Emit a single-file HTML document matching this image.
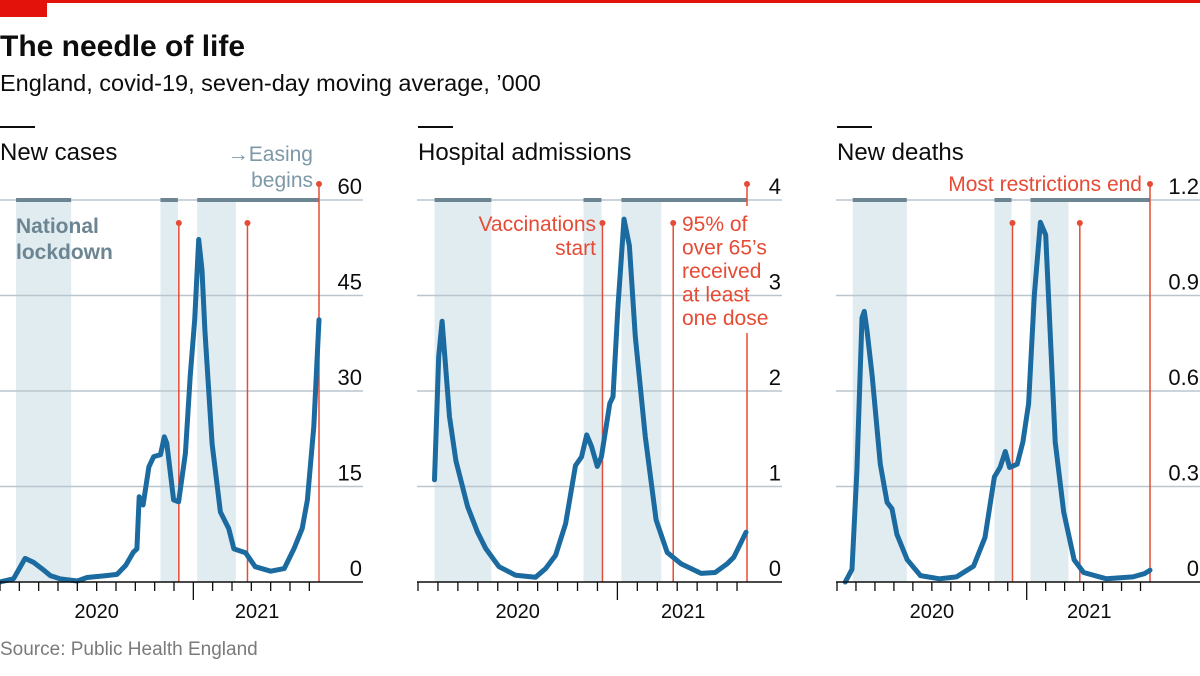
<!DOCTYPE html>
<html><head><meta charset="utf-8">
<style>
body{margin:0;background:#fff;}
svg{display:block;font-family:"Liberation Sans",sans-serif;}
</style></head>
<body>
<svg id="chart" width="1200" height="676" viewBox="0 0 1200 676">
<rect x="0" y="0" width="1200" height="3" fill="#e3120b"/>
<rect x="0" y="0" width="47" height="17" fill="#e3120b"/>
<text x="0" y="56" font-size="30" font-weight="bold" fill="#0d0d0d">The needle of life</text>
<text x="0" y="91" font-size="23.5" fill="#0d0d0d">England, covid-19, seven-day moving average, ’000</text>
<text x="0" y="655" font-size="19" fill="#7a7a7a">Source: Public Health England</text>
<g id="panels"></g>
</svg>
<script>
// month offsets from 1 Mar 2020
const casesMonths = [0,0.7,1.3,1.73,2.16,2.6,3.1,4,4.5,5.5,6.05,6.5,6.9,7.08,7.2,7.4,7.7,7.95,8.3,8.5,8.63,8.98,9.24,9.59,9.84,10.07,10.28,10.45,10.6,10.97,11.4,11.83,12.1,12.7,13.2,14,14.7,15.2,15.63,15.9,16.23,16.5];
const casesValues = [0,0.5,3.7,3.1,2.1,1,0.5,0.15,0.7,1,1.2,2.6,4.7,5.2,13.4,12.1,18.1,19.7,20,22.8,21.8,12.9,12.6,20.2,32.3,41.2,53.8,49,39.5,21.7,11,8.4,5.2,4.6,2.4,1.7,2.1,5.2,8.4,12.9,24.4,41.2];
const hospMonths = [0.83,1.04,1.21,1.58,1.9,2.49,2.99,3.4,4.06,4.9,5.9,6.4,6.9,7.4,7.9,8.2,8.46,8.7,8.99,9.2,9.62,9.78,10.03,10.33,10.6,10.9,11.4,11.94,12.5,13.2,14.2,14.9,15.5,15.84,16.45];
const hospValues = [1.07,2.36,2.73,1.73,1.27,0.79,0.52,0.35,0.16,0.07,0.05,0.14,0.28,0.61,1.22,1.31,1.54,1.42,1.21,1.31,1.87,1.94,2.89,3.8,3.52,2.57,1.52,0.65,0.31,0.19,0.09,0.1,0.19,0.26,0.52];
const deathMonths = [0.44,0.79,1.05,1.32,1.44,1.58,1.85,2.28,2.64,2.9,3.16,3.7,4.4,5.4,6.3,7.2,7.8,8.3,8.6,8.87,9.1,9.5,9.8,10.1,10.4,10.72,11,11.5,11.95,12.5,13,14.2,15.6,16.2,16.5];
const deathValues = [0,0.04,0.35,0.83,0.85,0.79,0.65,0.37,0.25,0.23,0.15,0.07,0.02,0.01,0.016,0.05,0.14,0.33,0.36,0.41,0.36,0.37,0.44,0.56,0.9,1.13,1.09,0.44,0.22,0.07,0.03,0.01,0.016,0.026,0.037];
const casesTicks = ["0","15","30","45","60"];
const hospTicks = ["0","1","2","3","4"];
const deathTicks = ["0","0.3","0.6","0.9","1.2"];
const lockdowns = [[0.83,3.68],[8.3,9.2],[10.2,12.2]];
const restrictionBars = [[0.83,3.68],[8.3,9.2],[10.2,16.5]];
const vaccineStart = 9.25, over65Dose = 12.8, restrictionsEnd = 16.5;

const NS="http://www.w3.org/2000/svg";
const root=document.getElementById('panels');
function mk(tag,attrs,parent){const e=document.createElementNS(NS,tag);for(const k in attrs)e.setAttribute(k,attrs[k]);(parent||root).appendChild(e);return e;}
const RED="#e64b35", BLUE="#1b6aa0";
const panels=[
 {name:'new-cases',title:'New cases',x0:0,x1:319,gx1:363,max:60,ticks:casesTicks,m:casesMonths,v:casesValues},
 {name:'hospital-admissions',title:'Hospital admissions',x0:418,x1:747,gx1:782,max:4,ticks:hospTicks,m:hospMonths,v:hospValues},
 {name:'new-deaths',title:'New deaths',x0:837,x1:1150,gx1:1200,max:1.2,ticks:deathTicks,m:deathMonths,v:deathValues}
];
const yTop=200,yBase=582;
panels.forEach((p,pi)=>{
  const g=mk('g',{});
  
  
  const X=m=>p.x0+(p.x1-p.x0)*m/16.5;
  const Y=v=>yBase-(yBase-yTop)*v/p.max;
  const hl=mk('rect',{x:p.x0,y:126,width:35,height:2,fill:'#0d0d0d'},g);
  
  
  const ht=mk('text',{x:p.x0,y:160,'font-size':24,fill:'#0d0d0d'},g);ht.textContent=p.title;
  
  
  lockdowns.forEach(r=>{const s=mk('rect',{x:X(r[0]),y:yTop,width:X(r[1])-X(r[0]),height:yBase-yTop,fill:'#e1ecf1'},g);
    
    });
  const gStart = p.x0 + (pi===0?0:-1);
  p.ticks.forEach((t,i)=>{const v=p.max*i/(p.ticks.length-1);const y=Y(v);
    if(i>0){const l=mk('line',{x1:gStart,x2:p.gx1,y1:y,y2:y,stroke:'#b9c6cd','stroke-width':1.5},g);
      
      }
    const tx=mk('text',{x:p.gx1-1,y:y-6,'font-size':22,'text-anchor':'end',fill:'#0d0d0d'},g);tx.textContent=t;
    
    });
  restrictionBars.forEach(r=>{const b=mk('rect',{x:X(r[0]),y:yTop-2,width:X(r[1])-X(r[0]),height:4,fill:'#6c8592'},g);
    
    });
  [[vaccineStart,223],[over65Dose,223],[restrictionsEnd,184]].forEach((e,k)=>{
    const x=X(e[0]);
    if(pi===1&&k===2){
      mk('line',{x1:x,x2:x,y1:e[1],y2:206,stroke:RED,'stroke-width':1.5},g);
      const l=mk('line',{x1:x,x2:x,y1:333,y2:yBase,stroke:RED,'stroke-width':1.5},g);
      
      
    } else {
      const l=mk('line',{x1:x,x2:x,y1:e[1],y2:yBase,stroke:RED,'stroke-width':1.5},g);
      
      
    }
    const c=mk('circle',{cx:x,cy:e[1],r:3,fill:RED},g);
    
    
  });
  const d=p.m.map((m,i)=>(i?'L':'M')+X(m).toFixed(1)+','+Y(p.v[i]).toFixed(1)).join('');
  const path=mk('path',{d:d,fill:'none',stroke:BLUE,'stroke-width':5,'stroke-linejoin':'round','stroke-linecap':'round'},g);
  
  
  const ax=mk('line',{x1:gStart,x2:p.gx1,y1:yBase,y2:yBase,stroke:'#0d0d0d','stroke-width':1.5},g);
  
  
  for(let m=0;m<=16;m++){const x=X(m);const tk=mk('line',{x1:x,x2:x,y1:yBase,y2:yBase+(m===10?18:9),stroke:'#0d0d0d','stroke-width':1.3},g);
    
    }
  [['2020',5],['2021',13.3]].forEach(a=>{const t=mk('text',{x:X(a[1]),y:618,'font-size':20,'text-anchor':'middle',fill:'#0d0d0d'},g);t.textContent=a[0];
    
    });
});
function label(lines,x,y,lh,anchor,color,name,weight){
  const t=mk('text',{x:x,y:y,'font-size':21,'text-anchor':anchor,fill:color,'font-weight':weight||'normal'});
  
  
  lines.forEach((s,i)=>{const ts=mk('tspan',{x:x,dy:i?lh:0},t);ts.textContent=s;});
}
label(['→Easing','begins'],313,161,26,'end','#7d98a6','easing-begins-label');
label(['National','lockdown'],16,233,26,'start','#6c8592','national-lockdown-label','bold');
label(['Vaccinations','start'],596,231,24,'end',RED,'vaccinations-start-label');
label(['95% of','over 65’s','received','at least','one dose'],682,231,23.5,'start',RED,'over-65-dose-label');
label(['Most restrictions end'],1142,191,24,'end',RED,'restrictions-end-label');
</script>
</body></html>
